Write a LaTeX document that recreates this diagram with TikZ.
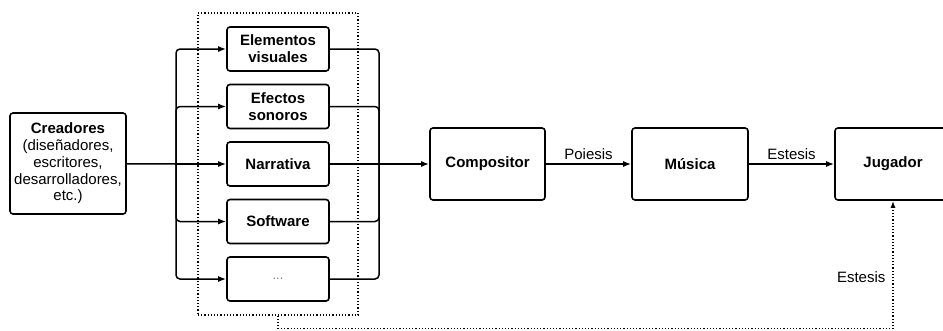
\documentclass[tikz,border=0pt]{standalone}
\usepackage{fontspec}
\setmainfont{Liberation Sans}
\usetikzlibrary{arrows.meta}

\begin{document}
\begin{tikzpicture}[x=1pt,y=-1pt,
    >={Latex[length=8pt,width=6pt]},
    box/.style={draw,rounded corners=3pt,line width=1.6pt,align=center,inner sep=0pt,
        font=\fontsize{15}{17}\selectfont\bfseries},
    conn/.style={line width=1.5pt,rounded corners=4pt},
    lbl/.style={font=\fontsize{15}{17}\selectfont,inner sep=4pt},
    dotbox/.style={draw,line width=1.3pt,dash pattern=on 1.2pt off 2pt,inner sep=0pt},
    dotline/.style={line width=1.3pt,dash pattern=on 1.2pt off 2pt,-{Latex[length=7pt,width=5pt]}}]

\useasboundingbox (0,0) rectangle (943,330);

\node[dotbox,minimum width=160,minimum height=302] (grupo) at (278,164) {};

\node[box,minimum width=116,minimum height=101,font=\fontsize{15}{16.7}\selectfont] (creadores) at (68,163.5)
    {\textbf{Creadores}\\(diseñadores,\\escritores,\\desarrolladores,\\etc.)};

\node[box,minimum width=102,minimum height=44] (visuales) at (278,49) {Elementos\\visuales};
\node[box,minimum width=102,minimum height=44] (sonoros) at (278,106.5) {Efectos\\sonoros};
\node[box,minimum width=102,minimum height=44] (narrativa) at (278,164) {Narrativa};
\node[box,minimum width=102,minimum height=44] (software) at (278,221.5) {Software};
\node[box,minimum width=102,minimum height=44] (otros) at (278,279)
    {\textcolor{gray}{\mdseries\fontsize{13}{13}\selectfont ...}};

\node[box,minimum width=115,minimum height=72] (comp) at (487.5,164) {Compositor};
\node[box,minimum width=116,minimum height=72] (musica) at (690,164) {Música};
\node[box,minimum width=116,minimum height=72] (jugador) at (893,164) {Jugador};

\coordinate (split) at (176,164);
\coordinate (join) at (379,164);

% reparto hacia los elementos
\draw[conn] (creadores) -- (split);
\draw[conn,->] (split) |- (visuales);
\draw[conn,->] (split) |- (sonoros);
\draw[conn,->] (split) -- (narrativa);
\draw[conn,->] (split) |- (software);
\draw[conn,->] (split) |- (otros);

% union hacia el compositor
\draw[conn] (visuales) -| (join);
\draw[conn] (sonoros) -| (join);
\draw[conn] (narrativa) -- (join);
\draw[conn] (software) -| (join);
\draw[conn] (otros) -| (join);
\draw[conn,->] (join) -- (comp);

\draw[conn,->] (comp) -- node[lbl,above] {Poiesis} (musica);
\draw[conn,->] (musica) -- node[lbl,above] {Estesis} (jugador);

\draw[dotline] (grupo.south) -- ++(0,13) -| node[lbl,pos=0.7,left,xshift=-3pt] {Estesis} (jugador.south);
\end{tikzpicture}
\end{document}
